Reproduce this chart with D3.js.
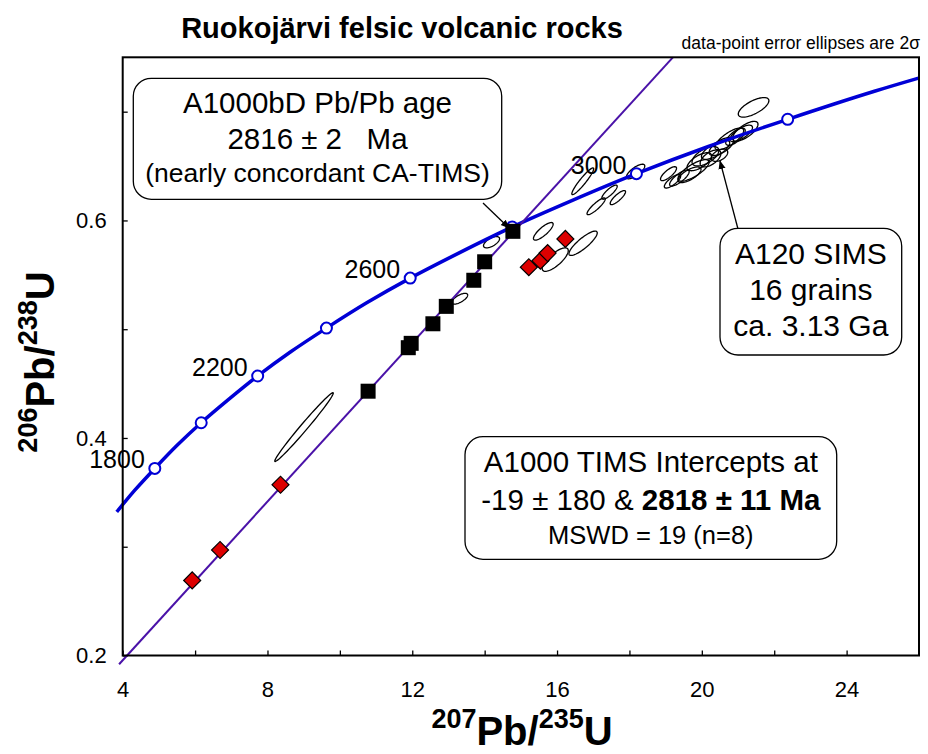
<!DOCTYPE html>
<html>
<head>
<meta charset="utf-8">
<script src="https://cdn.jsdelivr.net/npm/d3@7/dist/d3.min.js"></script>
<style>
  body { margin: 0; background: #fff; }
  svg { font-family: "Liberation Sans", Arial, Helvetica, sans-serif; }
</style>
</head>
<body>
<div id="chart"></div>
<script>
// Concordia curve (age in Ma, 207Pb/235U, 206Pb/238U)
const concordiaAges = [1600, 1700, 1800, 1900, 2000, 2100, 2200, 2300, 2400, 2500,
                       2600, 2700, 2800, 2900, 3000, 3100, 3200, 3300, 3400];
const concordiaX = [3.835, 4.335, 4.887, 5.496, 6.169, 6.910, 7.729, 8.632, 9.629, 10.729,
                    11.943, 13.283, 14.761, 16.392, 18.193, 20.180, 22.372, 24.792, 27.461];
const concordiaY = [0.332, 0.352, 0.372, 0.393, 0.414, 0.435, 0.457, 0.479, 0.501, 0.524,
                    0.547, 0.570, 0.594, 0.618, 0.643, 0.668, 0.693, 0.719, 0.745];
const markerAges = [1800, 2000, 2200, 2400, 2600, 2800, 3000, 3200];
const labelAges = [1800, 2200, 2600, 3000];

// A1000 TIMS fractions (black squares)
const timsX = [14.78, 14.00, 13.70, 12.94, 12.57, 11.97, 11.89, 10.78];
const timsY = [0.590, 0.562, 0.545, 0.521, 0.505, 0.487, 0.483, 0.443];

// other fractions (red diamonds)
const diamondX = [5.92, 6.69, 8.36, 15.22, 15.54, 15.74, 16.23];
const diamondY = [0.269, 0.297, 0.357, 0.557, 0.563, 0.570, 0.583];

// error ellipses: [207/235, 206/238, 2s err x, 2s err y, rho]
const ellipses = [
  [9.01, 0.410, 0.808, 0.0316, 0.988],
  [14.19, 0.580, 0.222, 0.0052, 0.615],
  [13.31, 0.528, 0.221, 0.0050, 0.686],
  [15.62, 0.590, 0.272, 0.0081, 0.814],
  [16.72, 0.579, 0.391, 0.0112, 0.853],
  [15.95, 0.564, 0.360, 0.0108, 0.763],
  [16.71, 0.636, 0.302, 0.0123, 0.936],
  [18.17, 0.645, 0.254, 0.0067, 0.749],
  [17.08, 0.613, 0.252, 0.0077, 0.880],
  [17.45, 0.626, 0.212, 0.0065, 0.833],
  [17.68, 0.621, 0.212, 0.0065, 0.833],
  // A120 SIMS
  [21.43, 0.704, 0.423, 0.0090, 0.679],
  [21.20, 0.682, 0.352, 0.0091, 0.702],
  [21.09, 0.680, 0.310, 0.0076, 0.712],
  [20.93, 0.677, 0.269, 0.0079, 0.698],
  [20.76, 0.675, 0.396, 0.0100, 0.759],
  [20.54, 0.668, 0.339, 0.0083, 0.649],
  [20.38, 0.665, 0.391, 0.0088, 0.704],
  [20.49, 0.660, 0.226, 0.0057, 0.474],
  [20.24, 0.657, 0.287, 0.0078, 0.577],
  [20.10, 0.659, 0.371, 0.0089, 0.588],
  [19.93, 0.654, 0.339, 0.0083, 0.649],
  [19.77, 0.646, 0.430, 0.0099, 0.767],
  [19.66, 0.642, 0.318, 0.0072, 0.693],
  [19.08, 0.643, 0.221, 0.0064, 0.777],
  [19.19, 0.636, 0.226, 0.0062, 0.772],
  [19.38, 0.639, 0.270, 0.0074, 0.790]
];

// discordia end points
const discordiaX = [3.9, 19.2];
const discordiaY = [0.192, 0.75];

// ticks
const xTickValues = [4, 6, 8, 10, 12, 14, 16, 18, 20, 22, 24];
const xLabelValues = [4, 8, 12, 16, 20, 24];
const yTickValues = [0.2, 0.3, 0.4, 0.5, 0.6, 0.7];
const yLabelValues = [0.2, 0.4, 0.6];

const width = 928, height = 754;
const plot = { left: 122.7, right: 919, top: 57.3, bottom: 655.5 };

const svg = d3.select('#chart').append('svg')
    .attr('width', width)
    .attr('height', height);

const x = d3.scaleLinear().domain([4, 26]).range([plot.left, plot.right]);
const y = d3.scaleLinear().domain([0.2, 0.75]).range([plot.bottom, plot.top]);

// arrow head
svg.append('defs').append('marker')
    .attr('id', 'arrow')
    .attr('viewBox', '0 0 10 10')
    .attr('refX', 9).attr('refY', 5)
    .attr('markerWidth', 9).attr('markerHeight', 9)
    .attr('markerUnits', 'userSpaceOnUse')
    .attr('orient', 'auto')
  .append('path')
    .attr('d', 'M0,1 L10,5 L0,9 Z')
    .attr('fill', '#000');

svg.select('defs').append('clipPath').attr('id', 'clip')
  .append('rect')
    .attr('x', plot.left - 10).attr('y', plot.top)
    .attr('width', plot.right - plot.left + 10)
    .attr('height', plot.bottom - plot.top);

// Title + note
svg.append('text')
    .attr('x', 402).attr('y', 38)
    .attr('text-anchor', 'middle')
    .style('font-weight', 'bold')
    .style('font-size', '29px')
    .text('Ruokojärvi felsic volcanic rocks');

svg.append('text')
    .attr('x', 920).attr('y', 49)
    .attr('text-anchor', 'end')
    .style('font-size', '17.5px')
    .text('data-point error ellipses are 2σ');

// Axes (ticks pointing inwards)
const xAxis = svg.append('g')
    .attr('transform', `translate(0,${plot.bottom})`)
    .call(d3.axisBottom(x).tickValues(xTickValues).tickSize(-5).tickPadding(26)
        .tickFormat(d => xLabelValues.includes(d) ? d : ''));
const yAxis = svg.append('g')
    .attr('transform', `translate(${plot.left},0)`)
    .call(d3.axisLeft(y).tickValues(yTickValues).tickSize(-5).tickPadding(16)
        .tickFormat(d => yLabelValues.some(v => Math.abs(v - d) < 1e-9) ? d3.format('.1f')(d) : ''));
[xAxis, yAxis].forEach(g => {
    g.select('.domain').remove();
    g.selectAll('.tick line').attr('stroke', '#000').attr('stroke-width', 1.3);
    g.selectAll('.tick text')
        .style('font-size', '22px')
        .style('font-family', '"Liberation Sans", Arial, sans-serif')
        .attr('fill', '#000');
});

// Error ellipses
const ellipsePath = d => {
    const [cx, cy, ex, ey, rho] = d;
    const pts = d3.range(0, 73).map(i => {
        const t = i / 72 * 2 * Math.PI;
        return [x(cx + ex * Math.cos(t)),
                y(cy + ey * (rho * Math.cos(t) + Math.sqrt(1 - rho * rho) * Math.sin(t)))];
    });
    return d3.line()(pts) + 'Z';
};
svg.append('g').selectAll('path')
    .data(ellipses)
    .join('path')
    .attr('d', ellipsePath)
    .attr('fill', 'none')
    .attr('stroke', '#000')
    .attr('stroke-width', 1.3);

// Concordia
const concordia = concordiaAges.map((a, i) => [concordiaX[i], concordiaY[i]]);
svg.append('path')
    .attr('clip-path', 'url(#clip)')
    .attr('d', d3.line().x(d => x(d[0])).y(d => y(d[1])).curve(d3.curveCatmullRom)(concordia))
    .attr('fill', 'none')
    .attr('stroke', '#0000d6')
    .attr('stroke-width', 3.5);

// Discordia
svg.append('line')
    .attr('x1', x(discordiaX[0])).attr('y1', y(discordiaY[0]))
    .attr('x2', x(discordiaX[1])).attr('y2', y(discordiaY[1]))
    .attr('stroke', '#4a12a8')
    .attr('stroke-width', 2);

// Age markers on concordia
const markers = markerAges.map(a => {
    const i = concordiaAges.indexOf(a);
    return { age: a, x: concordiaX[i], y: concordiaY[i] };
});
svg.append('g').selectAll('circle')
    .data(markers)
    .join('circle')
    .attr('cx', d => x(d.x))
    .attr('cy', d => y(d.y))
    .attr('r', 5.5)
    .attr('fill', '#fff')
    .attr('stroke', '#0000d6')
    .attr('stroke-width', 2);

svg.append('g').selectAll('text')
    .data(markers.filter(d => labelAges.includes(d.age)))
    .join('text')
    .attr('x', d => x(d.x) - 10)
    .attr('y', d => y(d.y))
    .attr('text-anchor', 'end')
    .style('font-size', '25px')
    .text(d => d.age);

// Red diamonds
svg.append('g').selectAll('rect')
    .data(diamondX.map((v, i) => [v, diamondY[i]]))
    .join('rect')
    .attr('x', -6).attr('y', -6)
    .attr('width', 12).attr('height', 12)
    .attr('transform', d => `translate(${x(d[0])},${y(d[1])}) rotate(45)`)
    .attr('fill', '#dd0000')
    .attr('stroke', '#000')
    .attr('stroke-width', 1.2);

// Black squares (A1000 TIMS)
svg.append('g').selectAll('rect')
    .data(timsX.map((v, i) => [v, timsY[i]]))
    .join('rect')
    .attr('x', d => x(d[0]) - 7.5)
    .attr('y', d => y(d[1]) - 7.5)
    .attr('width', 15).attr('height', 15)
    .attr('fill', '#000');

// Frame
svg.append('rect')
    .attr('x', plot.left).attr('y', plot.top)
    .attr('width', plot.right - plot.left)
    .attr('height', plot.bottom - plot.top)
    .attr('fill', 'none')
    .attr('stroke', '#000')
    .attr('stroke-width', 2);

// Annotation boxes
function labelBox(bx, by, bw, bh, lines) {
    const g = svg.append('g');
    g.append('rect')
        .attr('x', bx).attr('y', by)
        .attr('width', bw).attr('height', bh)
        .attr('rx', 18)
        .attr('fill', '#fff')
        .attr('stroke', '#000')
        .attr('stroke-width', 1.3);
    lines.forEach(l => {
        const t = g.append('text')
            .attr('x', bx + bw / 2).attr('y', l.y)
            .attr('text-anchor', 'middle')
            .style('font-size', l.size + 'px');
        l.parts.forEach(p => t.append('tspan')
            .style('font-weight', p.bold ? 'bold' : 'normal')
            .text(p.text));
    });
    return g;
}

svg.append('line')
    .attr('x1', 483).attr('y1', 203)
    .attr('x2', 509).attr('y2', 228)
    .attr('stroke', '#000').attr('stroke-width', 1.3)
    .attr('marker-end', 'url(#arrow)');
svg.append('line')
    .attr('x1', 738).attr('y1', 229)
    .attr('x2', 720).attr('y2', 161)
    .attr('stroke', '#000').attr('stroke-width', 1.3)
    .attr('marker-end', 'url(#arrow)');

labelBox(133.3, 78.3, 368.4, 121, [
    { y: 113, size: 29.5, parts: [{ text: 'A1000bD Pb/Pb age' }] },
    { y: 148.5, size: 29.5, parts: [{ text: '2816 ± 2\u00a0\u00a0\u00a0Ma' }] },
    { y: 182, size: 26.5, parts: [{ text: '(nearly concordant CA-TIMS)' }] }
]);

labelBox(720, 228.3, 181.7, 126.7, [
    { y: 264, size: 30, parts: [{ text: 'A120 SIMS' }] },
    { y: 300, size: 30, parts: [{ text: '16 grains' }] },
    { y: 336, size: 30, parts: [{ text: 'ca. 3.13 Ga' }] }
]);

labelBox(465, 436.7, 371.7, 122.6, [
    { y: 472, size: 29.5, parts: [{ text: 'A1000 TIMS Intercepts at' }] },
    { y: 510, size: 29.5, parts: [{ text: '-19 ± 180 & ' }, { text: '2818 ± 11 Ma', bold: true }] },
    { y: 543.5, size: 25.5, parts: [{ text: 'MSWD = 19 (n=8)' }] }
]);

// Axis titles
const xTitle = svg.append('text')
    .attr('x', 522).attr('y', 745)
    .attr('text-anchor', 'middle')
    .style('font-weight', 'bold');
xTitle.append('tspan').style('font-size', '27px').attr('dy', -17).text('207');
xTitle.append('tspan').style('font-size', '40px').attr('dy', 17).text('Pb/');
xTitle.append('tspan').style('font-size', '27px').attr('dy', -17).text('235');
xTitle.append('tspan').style('font-size', '40px').attr('dy', 17).text('U');

const yTitle = svg.append('text')
    .attr('transform', 'translate(54,362) rotate(-90)')
    .attr('text-anchor', 'middle')
    .style('font-weight', 'bold');
yTitle.append('tspan').style('font-size', '27px').attr('dy', -17).text('206');
yTitle.append('tspan').style('font-size', '40px').attr('dy', 17).text('Pb/');
yTitle.append('tspan').style('font-size', '27px').attr('dy', -17).text('238');
yTitle.append('tspan').style('font-size', '40px').attr('dy', 17).text('U');
</script>
</body>
</html>
